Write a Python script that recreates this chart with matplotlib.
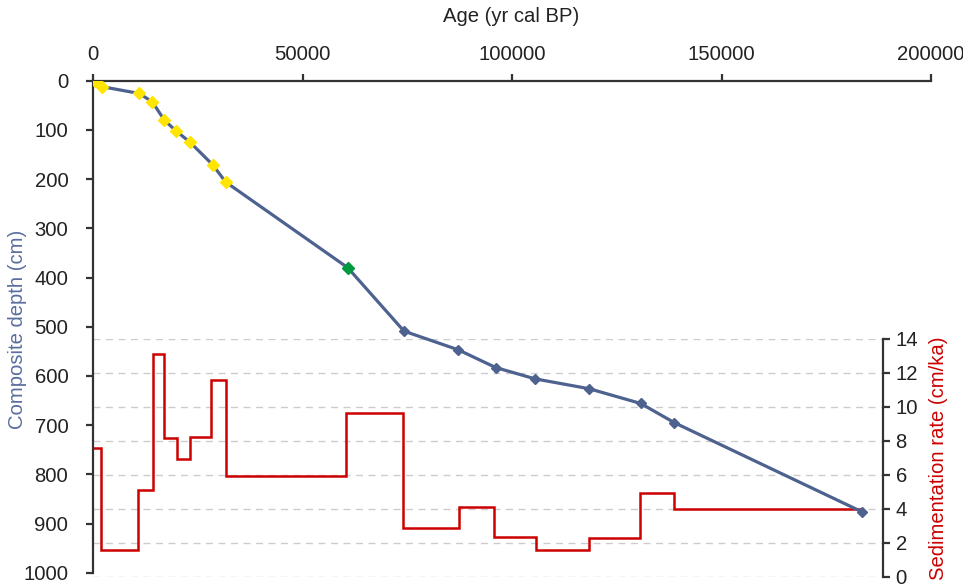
import matplotlib
matplotlib.use("Agg")
import matplotlib.pyplot as plt

plt.rcParams['font.family'] = ['Liberation Sans', 'DejaVu Sans']

# Age-depth model points
age_yellow = [300, 2000, 10980, 14090, 16950, 19740, 23090, 28510, 31610]
depth_yellow = [0, 12, 26, 43, 80, 102, 125, 171, 206]
age_green = [60740]
depth_green = [380]
age_blue = [74180, 87140, 96070, 105460, 118350, 130690, 138710, 183450]
depth_blue = [509, 547, 583, 606, 626, 656, 695, 876]

# Sedimentation rate steps
rate_edges = [0, 1840, 10740, 14330, 16810, 19910, 23020, 28100, 31610, 60260,
              73870, 87380, 95740, 105620, 118350, 130530, 138640, 183450]
rate_values = [7.6, 1.59, 5.12, 13.1, 8.16, 6.92, 8.24, 11.6, 5.96, 9.65,
               2.86, 4.1, 2.35, 1.59, 2.28, 4.92, 3.98]

x_ticks = [0, 50000, 100000, 150000, 200000]
depth_ticks = [0, 100, 200, 300, 400, 500, 600, 700, 800, 900, 1000]
rate_ticks = [0, 2, 4, 6, 8, 10, 12, 14]

line_blue = '#4E6290'
label_blue = '#5A6E9E'
red = '#CC0000'
spine_c = '#333333'
text_c = '#222222'
fs = 14.6

W, H = 963, 588
fig = plt.figure(figsize=(W / 100, H / 100), dpi=100)

# pixel layout
mx0, mx1, my0, my1 = 93.3, 931, 80.7, 572.7
rx1, ry0, ry1 = 883, 339, 577

ax = fig.add_axes([mx0 / W, 1 - my1 / H, (mx1 - mx0) / W, (my1 - my0) / H])
ax2 = fig.add_axes([mx0 / W, 1 - ry1 / H, (rx1 - mx0) / W, (ry1 - ry0) / H])
ax2.set_zorder(1)
ax.set_zorder(2)
ax.patch.set_visible(False)

# ---- rate axes ----
xmax2 = 200000 * (rx1 - mx0) / (mx1 - mx0)
ax2.set_xlim(0, xmax2)
ax2.set_ylim(0, 14)
ax2.stairs(rate_values, rate_edges, color=red, lw=1.8, baseline=None)
for s in ['top', 'bottom', 'left']:
    ax2.spines[s].set_visible(False)
ax2.spines['right'].set_color(spine_c)
ax2.spines['right'].set_linewidth(1.6)
ax2.xaxis.set_visible(False)
ax2.yaxis.tick_right()
ax2.set_yticks(rate_ticks)
ax2.tick_params(axis='y', direction='out', length=5, width=1.6, color=spine_c,
                labelsize=fs, labelcolor=text_c, pad=4)
ax2.grid(axis='y', color='#CCCCCC', linestyle=(0, (5, 4)), lw=1.0)
ax2.set_axisbelow(True)
ax2.patch.set_visible(False)

# ---- main axes ----
ax.set_xlim(0, 200000)
ax.set_ylim(1000, 0)
all_age = age_yellow + age_green + age_blue
all_depth = depth_yellow + depth_green + depth_blue
ax.plot(all_age, all_depth, color=line_blue, lw=2.3, marker='D', ms=5.5,
        mfc=line_blue, mec=line_blue, zorder=3)
ax.plot(age_yellow, depth_yellow, linestyle='none', marker='D', ms=6.2,
        mfc='#FFE500', mec='#FFE500', zorder=4)
ax.plot(age_green, depth_green, linestyle='none', marker='D', ms=5.8,
        mfc='#009A3E', mec='#009A3E', zorder=4)

for s in ['right', 'bottom']:
    ax.spines[s].set_visible(False)
for s in ['top', 'left']:
    ax.spines[s].set_color(spine_c)
    ax.spines[s].set_linewidth(1.6)
ax.xaxis.tick_top()
ax.set_xticks(x_ticks)
ax.set_xticklabels([str(v) for v in x_ticks])
ax.set_yticks(depth_ticks)
ax.tick_params(axis='both', direction='out', length=5, width=1.6, color=spine_c,
               labelsize=fs, labelcolor=text_c)
ax.tick_params(axis='x', pad=7)
ax.tick_params(axis='y', pad=13)

# axis titles
fig.text(511 / W, 1 - 17 / H, 'Age (yr cal BP)', fontsize=fs, color=text_c,
         ha='center', va='center')
fig.text(18 / W, 1 - 329 / H, 'Composite depth (cm)', fontsize=fs,
         color=label_blue, rotation=90, ha='center', va='center')
fig.text(938 / W, 1 - 458 / H, 'Sedimentation rate (cm/ka)', fontsize=fs,
         color=red, rotation=90, ha='center', va='center')

fig.savefig('out.png', dpi=100)
